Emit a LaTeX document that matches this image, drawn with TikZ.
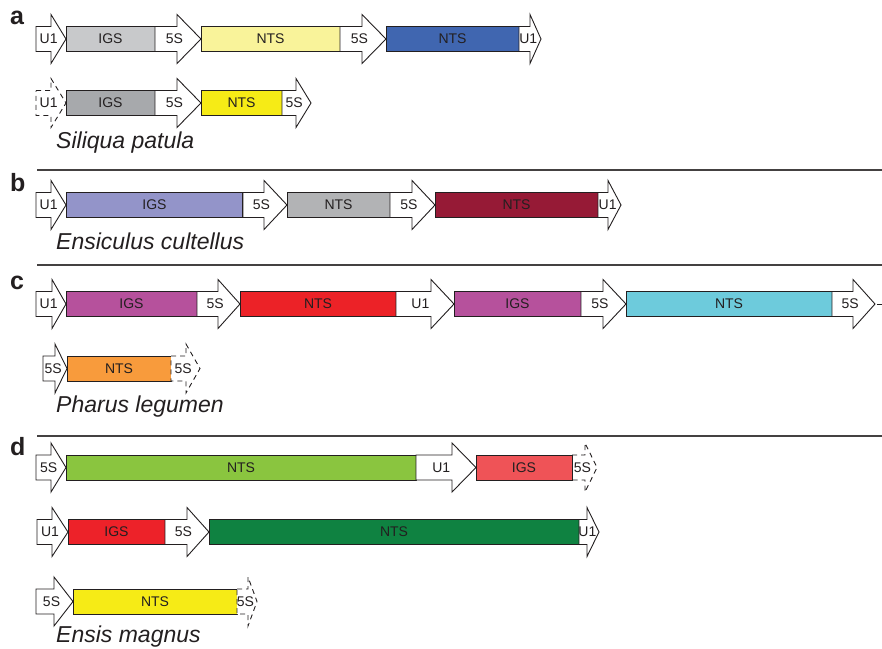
\documentclass[tikz,border=0pt]{standalone}
\usepackage{fontspec}
\setmainfont{Liberation Sans}
\definecolor{ink}{HTML}{231F20}
\definecolor{cIGSa}{HTML}{C8C9CB}
\definecolor{cNTSa}{HTML}{F9F39A}
\definecolor{cNTSblue}{HTML}{4066B0}
\definecolor{cIGSa2}{HTML}{A7A9AC}
\definecolor{cNTSy}{HTML}{F6EB16}
\definecolor{cIGSb}{HTML}{9394C9}
\definecolor{cNTSgray}{HTML}{B2B3B5}
\definecolor{cNTSwine}{HTML}{961A36}
\definecolor{cIGSmag}{HTML}{B6519C}
\definecolor{cNTSred}{HTML}{EC2227}
\definecolor{cNTScyan}{HTML}{6DCBDC}
\definecolor{cNTSorange}{HTML}{F89B3C}
\definecolor{cNTSlime}{HTML}{8AC53F}
\definecolor{cIGSpink}{HTML}{EF5357}
\definecolor{cIGSred}{HTML}{ED2229}
\definecolor{cNTSgreen}{HTML}{0F8241}
\tikzset{
  segbox/.style={draw=ink, line width=0.9pt, minimum height=25pt, inner sep=0pt, text=ink, font=\fontsize{14}{16}\selectfont},
  arrowshape/.style={draw=ink, fill=white, line width=0.9pt, line join=miter},
  dasharrow/.style={dash pattern=on 5pt off 4pt},
  lbl/.style={text=ink, inner sep=0pt, font=\fontsize{14}{16}\selectfont},
  species/.style={text=ink, inner sep=0pt, anchor=base west, font=\fontsize{23}{25}\selectfont\itshape},
  panel/.style={text=ink, inner sep=0pt, anchor=base west, font=\fontsize{25}{27}\selectfont\bfseries},
  sep/.style={draw=ink!85, line width=1.1pt},
}
% \seg{name}{x1}{x2}{yc}{fill}{label}
\newcommand{\seg}[6]{%
  \node[segbox, fill=#5, minimum width={#3-#2}] (#1) at ({(#2+#3)/2},#4) {#6};}
% \arw[opts]{name}{x0}{xbase}{xtip}{yc}{label}
\newcommand{\arw}[7][]{%
  \draw[arrowshape,#1] (#3,#6-12.5) -- (#4,#6-12.5) -- (#4,#6-24.5) -- (#5,#6)
     -- (#4,#6+24.5) -- (#4,#6+12.5) -- (#3,#6+12.5) -- cycle;
  \node[lbl] (#2) at ({#3+0.42*(#5-#3)},#6) {#7};}
\begin{document}
\begin{tikzpicture}[x=1pt,y=-1pt]
\useasboundingbox (0,0) rectangle (882,648);
% ---- panel a ----
\node[panel] (pa) at (10,24) {a};
\arw{a1u}{36}{51}{66}{39}{U1}
\seg{a1igs}{66}{155}{39}{cIGSa}{IGS}
\arw{a1s}{155}{177}{201}{39}{5S}
\seg{a1nts}{201}{340}{39}{cNTSa}{NTS}
\arw{a1s2}{340}{362}{386}{39}{5S}
\seg{a1nts2}{386}{519}{39}{cNTSblue}{NTS}
\arw{a1u2}{519}{530}{541}{39}{U1}
\arw[dasharrow]{a2u}{36}{51}{66}{103}{U1}
\seg{a2igs}{66}{155}{103}{cIGSa2}{IGS}
\arw{a2s}{155}{177}{201}{103}{5S}
\seg{a2nts}{201}{282}{103}{cNTSy}{NTS}
\arw{a2s2}{282}{296}{311}{103}{5S}
\node[species] (spa) at (56,148) {Siliqua patula};
% ---- panel b ----
\coordinate (lb1) at (37,170); \coordinate (lb2) at (882,170);
\draw[sep] (lb1) -- (lb2);
\node[panel] (pb) at (10,191) {b};
\arw{b1u}{36}{51}{66}{205}{U1}
\seg{b1igs}{66}{243}{205}{cIGSb}{IGS}
\draw[ink, line width=2pt] (b1igs.north east) -- (b1igs.south east);
\arw{b1s}{243}{264}{287}{205}{5S}
\seg{b1nts}{287}{390}{205}{cNTSgray}{NTS}
\arw{b1s2}{390}{412}{435}{205}{5S}
\seg{b1nts2}{435}{598}{205}{cNTSwine}{NTS}
\arw{b1u2}{598}{608}{621}{205}{U1}
\node[species] (spb) at (56,249) {Ensiculus cultellus};
% ---- panel c ----
\coordinate (lc1) at (37,265); \coordinate (lc2) at (882,265);
\draw[sep] (lc1) -- (lc2);
\node[panel] (pc) at (10,289) {c};
\arw{c1u}{36}{52}{66}{304}{U1}
\seg{c1igs}{66}{197}{304}{cIGSmag}{IGS}
\arw{c1s}{197}{218}{240}{304}{5S}
\seg{c1nts}{240}{396}{304}{cNTSred}{NTS}
\arw{c1u2}{396}{431}{454}{304}{U1}
\seg{c1igs2}{454}{581}{304}{cIGSmag}{IGS}
\arw{c1s2}{581}{603}{626}{304}{5S}
\seg{c1nts2}{626}{832}{304}{cNTScyan}{NTS}
\arw{c1s3}{832}{853}{875}{304}{5S}
\coordinate (cd1) at (877,304); \coordinate (cd2) at (882,304);
\draw[ink, line width=1pt] (cd1) -- (cd2);
\arw{c2s}{43}{55}{67}{368.5}{5S}
\seg{c2nts}{67}{171}{368.5}{cNTSorange}{NTS}
\arw[dasharrow]{c2s2}{171}{186}{200}{368.5}{5S}
\node[species] (spc) at (56,412) {Pharus legumen};
% ---- panel d ----
\coordinate (ld1) at (37,436); \coordinate (ld2) at (882,436);
\draw[sep] (ld1) -- (ld2);
\node[panel] (pd) at (10,455) {d};
\arw{d1s}{36}{51}{66}{467.5}{5S}
\seg{d1nts}{66}{416}{467.5}{cNTSlime}{NTS}
\arw{d1u}{416}{452}{476}{467.5}{U1}
\arw[dasharrow]{d1s2}{572}{585}{597}{467.5}{5S}
\seg{d1igs}{476}{572}{467.5}{cIGSpink}{IGS}
\draw[ink, line width=1.6pt] (d1igs.north east) -- (d1igs.south east);
\arw{d2u}{37}{52}{68}{532}{U1}
\seg{d2igs}{68}{165}{532}{cIGSred}{IGS}
\arw{d2s}{165}{187}{209}{532}{5S}
\seg{d2nts}{209}{579}{532}{cNTSgreen}{NTS}
\arw{d2u2}{579}{587}{599}{532}{U1}
\arw{d3s}{36}{54}{73}{601.5}{5S}
\seg{d3nts}{73}{237}{601.5}{cNTSy}{NTS}
\arw[dasharrow]{d3s2}{237}{248}{257}{601.5}{5S}
\node[species] (spd) at (56,642) {Ensis magnus};
\end{tikzpicture}
\end{document}
